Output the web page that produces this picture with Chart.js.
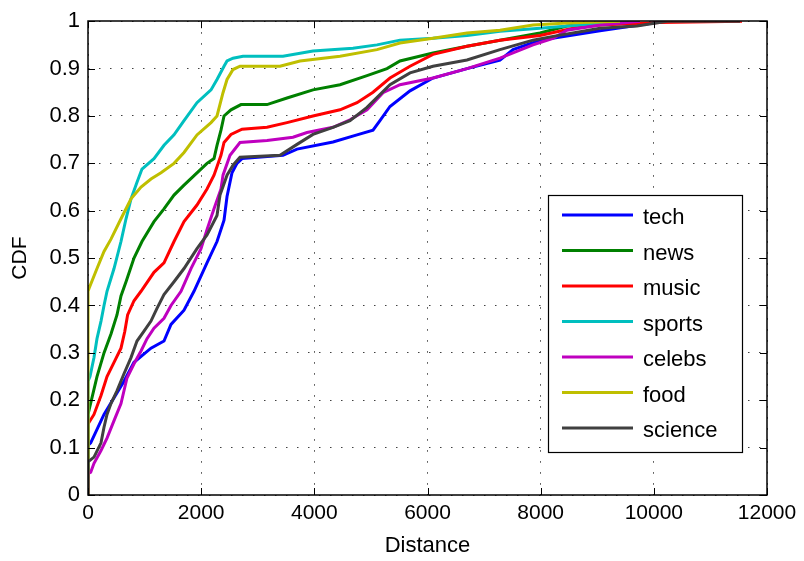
<!DOCTYPE html>
<html>
<head>
<meta charset="utf-8">
<script src="https://cdn.jsdelivr.net/npm/chart.js@4/dist/chart.umd.min.js"></script>
<style>
html,body{margin:0;padding:0;background:#fff;}
canvas{display:block;}
</style>
</head>
<body>
<canvas id="c" width="804" height="561"></canvas>
<script>
// ---- data (Distance, CDF) ----
const seriesNames = ['tech','news','music','sports','celebs','food','science'];
const seriesColors = ['#0000FF','#008000','#FF0000','#00BFBF','#BF00BF','#BFBF00','#404040'];
const xTickLabels = ['0','2000','4000','6000','8000','10000','12000'];
const yTickLabels = ['0','0.1','0.2','0.3','0.4','0.5','0.6','0.7','0.8','0.9','1'];

const tech = [[0,0],[0,0.105],[48,0.11],[283,0.17],[636,0.24],[813,0.28],[1113,0.31],[1343,0.325],[1467,0.36],[1697,0.39],[1873,0.43],[2103,0.49],[2280,0.535],[2404,0.58],[2457,0.63],[2545,0.68],[2633,0.70],[2722,0.71],[3446,0.717],[3694,0.73],[4330,0.745],[4754,0.76],[5037,0.77],[5160,0.79],[5337,0.82],[5691,0.853],[6097,0.88],[6698,0.90],[7281,0.918],[7511,0.94],[7988,0.96],[9048,0.98],[10197,1.0]];
const news = [[0,0],[0,0.17],[159,0.25],[283,0.30],[406,0.34],[512,0.38],[583,0.42],[672,0.45],[813,0.50],[954,0.535],[1166,0.577],[1343,0.604],[1520,0.633],[1697,0.654],[1926,0.68],[2103,0.70],[2227,0.71],[2280,0.738],[2350,0.77],[2404,0.80],[2527,0.813],[2704,0.824],[3164,0.824],[3517,0.838],[3976,0.855],[4454,0.866],[4931,0.885],[5284,0.90],[5514,0.916],[6097,0.933],[6698,0.947],[7281,0.96],[7988,0.975],[8465,0.99],[9048,0.996],[9755,1.0]];
const music = [[0,0],[0,0.15],[106,0.17],[230,0.21],[336,0.25],[460,0.28],[583,0.31],[650,0.345],[700,0.38],[813,0.41],[937,0.43],[1166,0.47],[1343,0.49],[1520,0.535],[1697,0.577],[1926,0.612],[2103,0.646],[2227,0.675],[2350,0.717],[2404,0.744],[2527,0.761],[2722,0.772],[3164,0.776],[3517,0.786],[3976,0.80],[4454,0.813],[4754,0.828],[5037,0.85],[5337,0.88],[5691,0.905],[6097,0.93],[6698,0.947],[7281,0.96],[7988,0.97],[8571,0.985],[9048,0.992],[10108,0.997],[11558,1.0]];
const sports = [[0,0],[0,0.24],[35,0.25],[106,0.29],[159,0.33],[230,0.367],[283,0.40],[336,0.43],[460,0.478],[583,0.535],[672,0.583],[760,0.625],[866,0.66],[954,0.688],[1166,0.71],[1343,0.738],[1520,0.76],[1697,0.79],[1926,0.828],[2174,0.855],[2280,0.877],[2404,0.905],[2457,0.916],[2563,0.922],[2739,0.926],[3446,0.926],[3976,0.937],[4683,0.943],[5107,0.95],[5514,0.96],[6097,0.964],[6698,0.97],[7281,0.979],[7988,0.985],[8695,0.992],[9402,1.0]];
const celebs = [[0,0],[0,0.045],[48,0.048],[106,0.067],[230,0.094],[336,0.12],[460,0.157],[583,0.193],[636,0.22],[689,0.247],[813,0.277],[937,0.304],[1043,0.33],[1166,0.352],[1343,0.373],[1467,0.40],[1644,0.43],[1820,0.478],[1997,0.52],[2103,0.56],[2227,0.604],[2350,0.646],[2386,0.675],[2510,0.717],[2686,0.744],[3164,0.748],[3623,0.755],[3870,0.765],[4330,0.776],[4630,0.792],[4931,0.813],[5214,0.849],[5514,0.866],[6097,0.88],[6698,0.90],[7281,0.922],[7865,0.95],[8218,0.964],[8465,0.981],[9048,0.992],[9755,1.0]];
const food = [[0,0],[0,0.43],[18,0.436],[159,0.478],[283,0.514],[406,0.54],[583,0.583],[760,0.625],[937,0.65],[1113,0.667],[1290,0.68],[1520,0.70],[1697,0.723],[1926,0.76],[2174,0.786],[2280,0.80],[2386,0.849],[2457,0.877],[2563,0.898],[2686,0.905],[3393,0.905],[3747,0.916],[4454,0.926],[5107,0.94],[5514,0.954],[6097,0.964],[6698,0.975],[7281,0.981],[7865,0.992],[8465,0.996],[9402,1.0]];
const science = [[0,0],[0,0.07],[106,0.08],[230,0.11],[283,0.143],[336,0.17],[406,0.193],[512,0.22],[636,0.256],[760,0.29],[866,0.325],[990,0.346],[1113,0.367],[1219,0.394],[1343,0.423],[1520,0.45],[1697,0.478],[1926,0.52],[2103,0.549],[2280,0.59],[2333,0.633],[2457,0.675],[2563,0.696],[2686,0.713],[3393,0.717],[3694,0.74],[3976,0.761],[4330,0.776],[4630,0.79],[4931,0.818],[5337,0.866],[5691,0.891],[6097,0.905],[6698,0.918],[7281,0.94],[7865,0.96],[8218,0.968],[8748,0.979],[9048,0.985],[9702,0.99],[10233,1.0],[11523,1.0]];

const allSeries = [tech, news, music, sports, celebs, food, science];

const FONT = '"Liberation Sans", Arial, Helvetica, sans-serif';

const datasets = allSeries.map((s, i) => ({
  label: seriesNames[i],
  data: s.map(p => ({x: p[0], y: p[1]})),
  borderColor: seriesColors[i],
  backgroundColor: seriesColors[i],
  borderWidth: 3,
  pointRadius: 0,
  tension: 0,
  fill: false,
  order: allSeries.length - 1 - i   // later series drawn on top (like MATLAB)
}));

// frame, inward tick marks and legend box
const decor = {
  id: 'decor',
  afterDatasetsDraw(chart) {
    const ctx = chart.ctx;
    const a = chart.chartArea;
    const xs = chart.scales.x, ys = chart.scales.y;
    ctx.save();
    ctx.strokeStyle = '#000';
    ctx.lineWidth = 1;
    ctx.beginPath();
    xs.ticks.forEach(t => {
      const px = Math.round(xs.getPixelForValue(t.value)) + 0.5;
      ctx.moveTo(px, a.bottom); ctx.lineTo(px, a.bottom - 7);
      ctx.moveTo(px, a.top); ctx.lineTo(px, a.top + 7);
    });
    ys.ticks.forEach(t => {
      const py = Math.round(ys.getPixelForValue(t.value)) + 0.5;
      ctx.moveTo(a.left, py); ctx.lineTo(a.left + 7, py);
      ctx.moveTo(a.right, py); ctx.lineTo(a.right - 7, py);
    });
    ctx.stroke();
    ctx.lineWidth = 1.5;
    ctx.strokeRect(Math.round(a.left), Math.round(a.top), Math.round(a.right - a.left), Math.round(a.bottom - a.top));

    // legend
    const bx = 548, by = 195, bw = 194, bh = 257;
    ctx.fillStyle = '#fff';
    ctx.fillRect(bx, by, bw, bh);
    ctx.lineWidth = 1.2;
    ctx.strokeStyle = '#000';
    ctx.strokeRect(bx + 0.5, by + 0.5, bw, bh);
    ctx.font = '22px ' + FONT;
    ctx.textBaseline = 'middle';
    ctx.textAlign = 'left';
    chart.data.datasets.forEach((d, i) => {
      const y = 215 + i * 35.5;
      ctx.strokeStyle = d.borderColor;
      ctx.lineWidth = 3;
      ctx.beginPath();
      ctx.moveTo(562, y); ctx.lineTo(633, y);
      ctx.stroke();
      ctx.fillStyle = '#000';
      ctx.fillText(d.label, 643, y + 3);
    });
    ctx.restore();
  }
};

new Chart(document.getElementById('c'), {
  type: 'line',
  data: { datasets },
  options: {
    responsive: false,
    devicePixelRatio: 1,
    animation: false,
    layout: { padding: { left: 0, right: 37, top: 18, bottom: 0 } },
    plugins: { legend: { display: false }, tooltip: { enabled: false } },
    scales: {
      x: {
        type: 'linear',
        min: 0, max: 12000,
        ticks: {
          stepSize: 2000,
          color: '#000',
          font: { family: FONT, size: 21 },
          padding: 6,
          maxRotation: 0,
          callback: (v, i) => xTickLabels[i]
        },
        grid: {
          color: 'rgba(0,0,0,0.75)',
          lineWidth: 1,
          tickLength: 0,
          drawTicks: false
        },
        border: { display: false, dash: [1.5, 9.5] },
        title: { display: true, text: 'Distance', color: '#000', font: { family: FONT, size: 22 }, padding: { top: 0, bottom: 2 } },
        afterFit: s => { s.height = 561 - 495; }
      },
      y: {
        type: 'linear',
        min: 0, max: 1,
        ticks: {
          stepSize: 0.1,
          color: '#000',
          font: { family: FONT, size: 22 },
          padding: 8,
          callback: (v, i) => yTickLabels[i]
        },
        grid: {
          color: 'rgba(0,0,0,0.75)',
          lineWidth: 1,
          tickLength: 0,
          drawTicks: false
        },
        border: { display: false, dash: [1.5, 9.5] },
        title: { display: true, text: 'CDF', color: '#000', font: { family: FONT, size: 21 }, padding: { top: 8, bottom: 4 } },
        afterFit: s => { s.width = 88; }
      }
    }
  },
  plugins: [decor]
});
</script>
</body>
</html>
